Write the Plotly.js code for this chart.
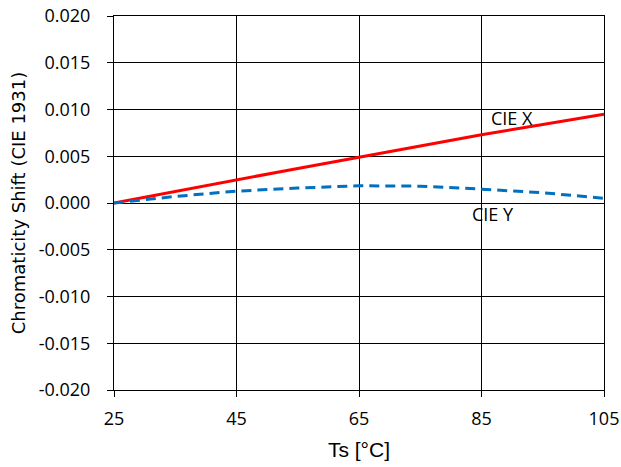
<!DOCTYPE html>
<html>
<head>
<meta charset="utf-8">
<script src="https://cdn.plot.ly/plotly-3.0.1.min.js"></script>
<style>html,body{margin:0;padding:0;background:#fff}#chart{width:621px;height:467px}</style>
</head>
<body>
<div id="chart"></div>
<script>
// Solder temperature (°C) and chromaticity shift of the two CIE 1931 coordinates
const temps = [25, 35, 45, 55, 65, 75, 85, 95, 105];
const cieX  = [0, 0.00125, 0.0025, 0.0037, 0.0049, 0.0061, 0.0073, 0.0084, 0.0095];
const cieY  = [0, 0.0007, 0.00127, 0.0016, 0.00184, 0.0018, 0.00148, 0.0011, 0.0005];
const xTicks = [25, 45, 65, 85, 105];
const yTicks = [-0.020, -0.015, -0.010, -0.005, 0.000, 0.005, 0.010, 0.015, 0.020];

const tickFont = {family: 'Open Sans, sans-serif', size: 18, color: '#000'};
const xTitleFont = {family: 'Liberation Sans, Arial, sans-serif', size: 21, color: '#000'};
const yTitleFont = {family: 'DejaVu Sans, sans-serif', size: 18, color: '#000'};
const noteFont = {family: 'Open Sans, sans-serif', size: 18, color: '#000'};

const traces = [
  {x: temps, y: cieX, mode: 'lines', name: 'CIE X', line: {color: '#FF0000', width: 3}},
  {x: temps, y: cieY, mode: 'lines', name: 'CIE Y', line: {color: '#0070C0', width: 3, dash: '10px,6px'}}
];

const layout = {
  width: 621, height: 467,
  margin: {l: 114, r: 17, t: 16, b: 77},
  paper_bgcolor: '#fff', plot_bgcolor: '#fff',
  showlegend: false,
  font: tickFont,
  xaxis: {
    range: [25, 105], tickvals: xTicks, ticktext: xTicks.map(String),
    showgrid: true, gridcolor: '#000', gridwidth: 1,
    showline: true, linecolor: '#000', linewidth: 1, mirror: true,
    ticks: 'outside', ticklen: 6, tickcolor: '#000',
    zeroline: false, tickfont: tickFont, ticklabelstandoff: 6,
    title: {text: 'Ts [°C]', font: xTitleFont, standoff: 13}
  },
  yaxis: {
    range: [-0.020, 0.020], tickvals: yTicks, ticktext: yTicks.map(v => v.toFixed(3)),
    showgrid: true, gridcolor: '#000', gridwidth: 1,
    showline: true, linecolor: '#000', linewidth: 1, mirror: true,
    ticks: 'outside', ticklen: 6, tickcolor: '#000',
    zeroline: true, zerolinecolor: '#000', zerolinewidth: 1,
    tickfont: tickFont, ticklabelstandoff: 13,
    title: {text: 'Chromaticity Shift (CIE 1931)', font: yTitleFont, standoff: 8}
  },
  annotations: [
    {x: 90, y: 0.0091, text: 'CIE X', showarrow: false, font: noteFont},
    {x: 86.8, y: -0.0012, text: 'CIE Y', showarrow: false, font: noteFont}
  ]
};

Plotly.newPlot('chart', traces, layout, {staticPlot: true, displayModeBar: false});
</script>
</body>
</html>
